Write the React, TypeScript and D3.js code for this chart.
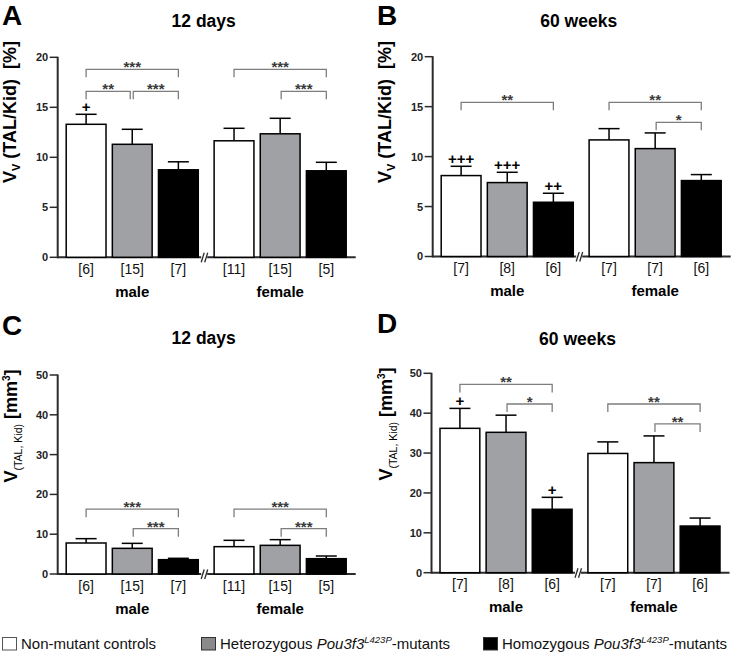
import React from "react";
import * as d3 from "d3";

// ---------- DATA ----------
const SEXES = ["male", "female"];
const GENOTYPES = ["control", "heterozygous", "homozygous"];

// 12 days, Vv(TAL/Kid) [%]
const A_MEAN = [13.3, 11.3, 8.75, 11.65, 12.35, 8.65];
const A_SEM = [1.0, 1.5, 0.8, 1.25, 1.55, 0.85];
const A_N = ["[6]", "[15]", "[7]", "[11]", "[15]", "[5]"];
const A_PLUS = ["+", "", "", "", "", ""];
const A_BRACKETS = [
  { sex: "male", from: 0, to: 2, level: 18.8, label: "***" },
  { sex: "male", from: 0, to: 1, level: 16.6, label: "**" },
  { sex: "male", from: 1, to: 2, level: 16.6, label: "***" },
  { sex: "female", from: 0, to: 2, level: 18.8, label: "***" },
  { sex: "female", from: 1, to: 2, level: 16.6, label: "***" },
];

// 60 weeks, Vv(TAL/Kid) [%]
const B_MEAN = [8.1, 7.4, 5.43, 11.67, 10.8, 7.6];
const B_SEM = [0.93, 1.03, 0.9, 1.13, 1.57, 0.6];
const B_N = ["[7]", "[8]", "[6]", "[7]", "[7]", "[6]"];
const B_PLUS = ["+++", "+++", "++", "", "", ""];
const B_BRACKETS = [
  { sex: "male", from: 0, to: 2, level: 15.43, label: "**" },
  { sex: "female", from: 0, to: 2, level: 15.43, label: "**" },
  { sex: "female", from: 1, to: 2, level: 13.43, label: "*" },
];

// 12 days, V(TAL, Kid) [mm³]
const C_MEAN = [7.79, 6.45, 3.6, 6.87, 7.2, 3.85];
const C_SEM = [1.09, 1.25, 0.34, 1.59, 1.43, 0.67];
const C_N = ["[6]", "[15]", "[7]", "[11]", "[15]", "[5]"];
const C_PLUS = ["", "", "", "", "", ""];
const C_BRACKETS = [
  { sex: "male", from: 0, to: 2, level: 16.3, label: "***" },
  { sex: "male", from: 1, to: 2, level: 11.4, label: "***" },
  { sex: "female", from: 0, to: 2, level: 16.3, label: "***" },
  { sex: "female", from: 1, to: 2, level: 11.4, label: "***" },
];

// 60 weeks, V(TAL, Kid) [mm³]
const D_MEAN = [36.2, 35.2, 15.9, 29.9, 27.6, 11.7];
const D_SEM = [5.0, 4.3, 3.0, 2.9, 6.7, 2.0];
const D_N = ["[7]", "[8]", "[6]", "[7]", "[7]", "[6]"];
const D_PLUS = ["+", "", "+", "", "", ""];
const D_BRACKETS = [
  { sex: "male", from: 0, to: 2, level: 47.2, label: "**" },
  { sex: "male", from: 1, to: 2, level: 42.3, label: "*" },
  { sex: "female", from: 0, to: 2, level: 42.3, label: "**" },
  { sex: "female", from: 1, to: 2, level: 37.3, label: "**" },
];

const TICKS_PCT = [0, 5, 10, 15, 20];
const TICKS_MM = [0, 10, 20, 30, 40, 50];

// ---------- STYLE / LAYOUT ----------
const FONT = "'Liberation Sans', Arial, Helvetica, sans-serif";
const FILLS = ["#ffffff", "#a0a1a5", "#000000"];
const LEGEND_FILLS = ["#ffffff", "#8a8a8a", "#000000"];

const PANELS = [
  { letter: "A", title: "12 days", mean: A_MEAN, sem: A_SEM, n: A_N, plus: A_PLUS, brackets: A_BRACKETS, ticks: TICKS_PCT, unit: "pct",
    x0: 57.7, y0: 257.3, yTop: 57.3, letterX: 2, letterY: 25, titleY: 27, labelX: 15.5, labelY: 112 },
  { letter: "B", title: "60 weeks", mean: B_MEAN, sem: B_SEM, n: B_N, plus: B_PLUS, brackets: B_BRACKETS, ticks: TICKS_PCT, unit: "pct",
    x0: 432.7, y0: 256.5, yTop: 56.7, letterX: 377, letterY: 25, titleY: 27, labelX: 390.5, labelY: 112 },
  { letter: "C", title: "12 days", mean: C_MEAN, sem: C_SEM, n: C_N, plus: C_PLUS, brackets: C_BRACKETS, ticks: TICKS_MM, unit: "mm",
    x0: 57.7, y0: 574, yTop: 375, letterX: 2, letterY: 335, titleY: 343.5, labelX: 17, labelY: 426 },
  { letter: "D", title: "60 weeks", mean: D_MEAN, sem: D_SEM, n: D_N, plus: D_PLUS, brackets: D_BRACKETS, ticks: TICKS_MM, unit: "mm",
    x0: 431.5, y0: 572.7, yTop: 373.3, letterX: 377, letterY: 333, titleY: 344.5, labelX: 392, labelY: 424 },
];

const AXIS_W = 298;

function Panel({ p }) {
  const ymax = p.ticks[p.ticks.length - 1];
  const y = d3.scaleLinear().domain([0, ymax]).range([p.y0, p.yTop]);
  const outer = d3.scaleBand().domain(SEXES).range([p.x0 + 8.5, p.x0 + 288.5]).paddingInner(30 / 280);
  const inner = d3.scaleBand().domain(GENOTYPES).range([0, outer.bandwidth()]).paddingInner(0.137);
  const bw = inner.bandwidth();
  const barLeft = (si, gi) => (outer(SEXES[si]) as number) + (inner(GENOTYPES[gi]) as number);
  const barCenter = (si, gi) => barLeft(si, gi) + bw / 2;
  const breakX = ((outer("male") as number) + outer.bandwidth() + (outer("female") as number)) / 2 - 2;
  const xEnd = p.x0 + AXIS_W;
  const axisColor = "#2b2b2b";

  const bars = [];
  SEXES.forEach((s, si) => GENOTYPES.forEach((g, gi) => bars.push({ si, gi, i: si * 3 + gi })));

  return (
    <g>
      <text x={p.letterX} y={p.letterY} fontFamily={FONT} fontWeight="bold" fontSize={28} fill="#000">{p.letter}</text>
      <text x={p.x0 + 146} y={p.titleY} fontFamily={FONT} fontWeight="bold" fontSize={17.5} textAnchor="middle" fill="#000">{p.title}</text>

      {/* y label */}
      <g transform={`translate(${p.labelX},${p.labelY}) rotate(-90)`}>
        {p.unit === "pct" ? (
          <text fontFamily={FONT} fontWeight="bold" fontSize={18} textAnchor="middle" fill="#000" xmlSpace="preserve">
            <tspan>V</tspan>
            <tspan fontSize={11} dy={4}>V</tspan>
            <tspan dy={-4}>{" (TAL/Kid)  [%]"}</tspan>
          </text>
        ) : (
          <text fontFamily={FONT} fontWeight="bold" fontSize={18} textAnchor="middle" fill="#000" xmlSpace="preserve">
            <tspan>V</tspan>
            <tspan fontSize={10.5} fontWeight="normal" dy={5}>(TAL, Kid)</tspan>
            <tspan dy={-5}>{" [mm"}</tspan>
            <tspan fontSize={10} dy={-7}>3</tspan>
            <tspan dy={7}>]</tspan>
          </text>
        )}
      </g>

      {/* y axis */}
      <line x1={p.x0} x2={p.x0} y1={y(ymax) - 0.5} y2={p.y0 + 1} stroke={axisColor} strokeWidth={2} />
      {p.ticks.map((t) => (
        <g key={t}>
          <line x1={p.x0 - 8} x2={p.x0} y1={y(t)} y2={y(t)} stroke={axisColor} strokeWidth={1.5} />
          <text x={p.x0 - 9.5} y={y(t)} dy="0.36em" textAnchor="end" fontFamily={FONT} fontWeight="bold" fontSize={11} fill="#222">{t}</text>
        </g>
      ))}

      {/* x axis with break */}
      <line x1={p.x0} x2={breakX - 3} y1={p.y0} y2={p.y0} stroke={axisColor} strokeWidth={2} />
      <line x1={breakX + 3} x2={xEnd} y1={p.y0} y2={p.y0} stroke={axisColor} strokeWidth={2} />
      {[0, 1].map((k) => (
        <line key={k} x1={breakX - 3 + k * 3.5} y1={p.y0 + 5} x2={breakX + k * 3.5} y2={p.y0 - 4.5} stroke={axisColor} strokeWidth={1.3} />
      ))}

      {/* bars */}
      {bars.map(({ si, gi, i }) => {
        const m = p.mean[i];
        const top = m + p.sem[i];
        const cx = barCenter(si, gi);
        return (
          <g key={i}>
            <line x1={cx} x2={cx} y1={y(m)} y2={y(top)} stroke="#000" strokeWidth={1.5} />
            <line x1={cx - 10.5} x2={cx + 10.5} y1={y(top)} y2={y(top)} stroke="#000" strokeWidth={1.5} />
            <rect x={barLeft(si, gi)} y={y(m)} width={bw} height={p.y0 - y(m)} fill={FILLS[gi]} stroke="#000" strokeWidth={1.5} />
            {p.plus[i] && (
              <text x={cx} y={y(top) - 2} textAnchor="middle" fontFamily={FONT} fontWeight="bold" fontSize={15} fill="#000">{p.plus[i]}</text>
            )}
            <text x={cx} y={p.y0 + 16.5} textAnchor="middle" fontFamily={FONT} fontSize={14} fill="#111">{p.n[i]}</text>
          </g>
        );
      })}

      {/* group labels */}
      {SEXES.map((s) => (
        <text key={s} x={(outer(s) as number) + outer.bandwidth() / 2} y={p.y0 + 39.5} textAnchor="middle" fontFamily={FONT} fontWeight="bold" fontSize={15} fill="#000">{s}</text>
      ))}

      {/* significance brackets */}
      {p.brackets.map((b, k) => {
        const si = SEXES.indexOf(b.sex);
        const xa = barCenter(si, b.from) + (b.from === 1 ? 1 : 0);
        const xb = barCenter(si, b.to) - (b.to === 1 ? 2 : 0);
        const yy = y(b.level);
        return (
          <g key={k}>
            <path d={`M${xa},${yy + 8}V${yy}H${xb}V${yy + 8}`} fill="none" stroke="#7d7d7d" strokeWidth={1.3} />
            <text x={(xa + xb) / 2} y={yy + 3} textAnchor="middle" fontFamily={FONT} fontWeight="bold" fontSize={15} fill="#3a3a3a">{b.label}</text>
          </g>
        );
      })}
    </g>
  );
}

const LEGEND = [
  { x: 2, parts: [{ t: "Non-mutant controls" }] },
  { x: 201, parts: [{ t: "Heterozygous " }, { t: "Pou3f3", it: true }, { t: "L423P", sup: true }, { t: "-mutants" }] },
  { x: 483, parts: [{ t: "Homozygous " }, { t: "Pou3f3", it: true }, { t: "L423P", sup: true }, { t: "-mutants" }] },
];

export default function App() {
  return (
    <svg width={733} height={653} viewBox="0 0 733 653" style={{ position: "absolute", left: 0, top: 0, background: "#fff" }}>
      <rect x={0} y={0} width={733} height={653} fill="#fff" />
      {PANELS.map((p) => (
        <Panel key={p.letter} p={p} />
      ))}
      {LEGEND.map((l, gi) => (
        <g key={gi}>
          <rect x={l.x + 0.5} y={637.5} width={14} height={12.5} fill={LEGEND_FILLS[gi]} stroke={gi === 0 ? "#555" : "#333"} strokeWidth={1} />
          <text x={l.x + 19} y={649} fontFamily={FONT} fontSize={15} fill="#111" xmlSpace="preserve">
            {l.parts.map((pt, k) => {
              if (pt.sup) return <tspan key={k} fontSize={9.5} fontStyle="italic" dy={-6}>{pt.t}</tspan>;
              const prevSup = k > 0 && l.parts[k - 1].sup;
              return (
                <tspan key={k} fontStyle={pt.it ? "italic" : "normal"} dy={prevSup ? 6 : 0}>{pt.t}</tspan>
              );
            })}
          </text>
        </g>
      ))}
    </svg>
  );
}
